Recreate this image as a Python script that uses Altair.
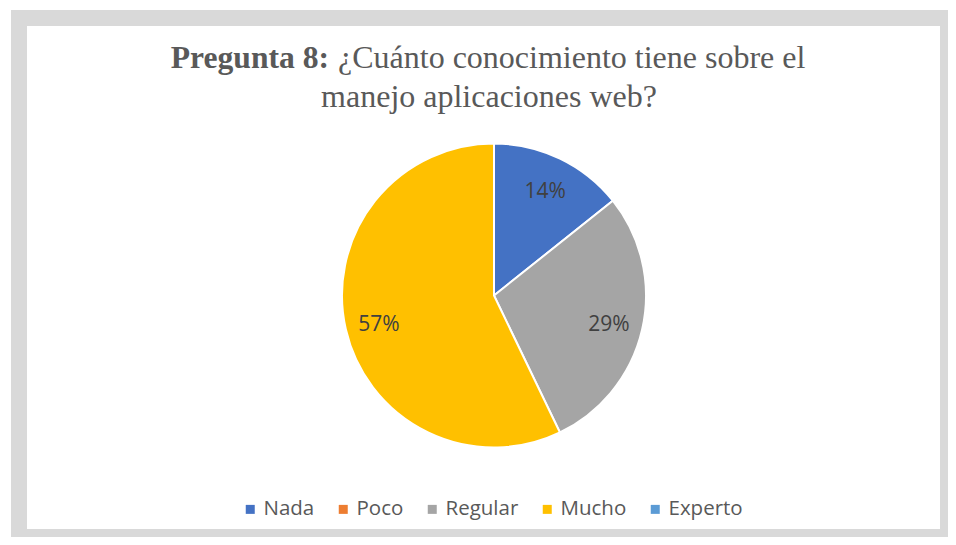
import altair as alt
import pandas as pd

# ---- data ----
categories = ["Nada", "Poco", "Regular", "Mucho", "Experto"]
counts = [1, 0, 2, 4, 0]
colors = ["#4472C4", "#ED7D31", "#A5A5A5", "#FFC000", "#5B9BD5"]

title_bold = "Pregunta 8:"
title_rest = "¿Cuánto conocimiento tiene sobre el"
title_line2 = "manejo aplicaciones web?"

df = pd.DataFrame({"cat": categories, "n": counts, "idx": list(range(len(categories)))})

# ---- layout constants ----
CX, CY = 475, 277.5
R = 152
LABEL_R = 118

color = alt.Color(
    "cat:N",
    scale=alt.Scale(domain=categories, range=colors),
    legend=alt.Legend(
        title=None,
        orient="none",
        direction="horizontal",
        legendX=221,
        legendY=481,
        columns=5,
        symbolType="square",
        symbolSize=81,
        symbolStrokeWidth=0,
        labelOffset=3,
        columnPadding=18,
        labelFont="Open Sans",
        labelFontSize=20.5,
        labelColor="#595959",
        padding=0,
    ),
)

base = (
    alt.Chart(df)
    .transform_joinaggregate(total="sum(n)")
    .transform_calculate(pct="datum.n / datum.total")
    .transform_filter("datum.n > 0")
)

arcs = base.mark_arc(stroke="white", strokeWidth=2, radius=R).encode(
    theta=alt.Theta("n:Q", stack=True),
    color=color,
    order=alt.Order("idx:Q"),
    x=alt.value(CX),
    y=alt.value(CY),
)

labels = base.mark_text(
    radius=LABEL_R, font="Open Sans", fontSize=21, color="#404040", dy=3
).encode(
    theta=alt.Theta("n:Q", stack=True),
    order=alt.Order("idx:Q"),
    text=alt.Text("pct:Q", format=".0%"),
    x=alt.value(CX),
    y=alt.value(CY),
)

t1 = alt.Chart(pd.DataFrame({"t": [title_bold]})).mark_text(
    font="Liberation Serif", fontSize=31.6, fontWeight="bold", color="#595959",
    align="right", baseline="alphabetic",
).encode(text="t:N", x=alt.value(310), y=alt.value(50))

t2 = alt.Chart(pd.DataFrame({"t": [title_rest]})).mark_text(
    font="Liberation Serif", fontSize=32, color="#595959",
    align="left", baseline="alphabetic",
).encode(text="t:N", x=alt.value(319), y=alt.value(50))

t3 = alt.Chart(pd.DataFrame({"t": [title_line2]})).mark_text(
    font="Liberation Serif", fontSize=32, color="#595959",
    align="center", baseline="alphabetic",
).encode(text="t:N", x=alt.value(470), y=alt.value(89))

chart = (
    alt.layer(arcs, labels, t1, t2, t3)
    .properties(
        width=929,
        height=519,
        padding={"left": 11, "top": 10, "right": 0, "bottom": 0},
        autosize=alt.AutoSizeParams(type="none"),
        background="white",
    )
    .configure_view(stroke="#d9d9d9", strokeWidth=16, fill="white")
)

chart.save("out.html", embed_options={"renderer": "svg", "actions": False})
